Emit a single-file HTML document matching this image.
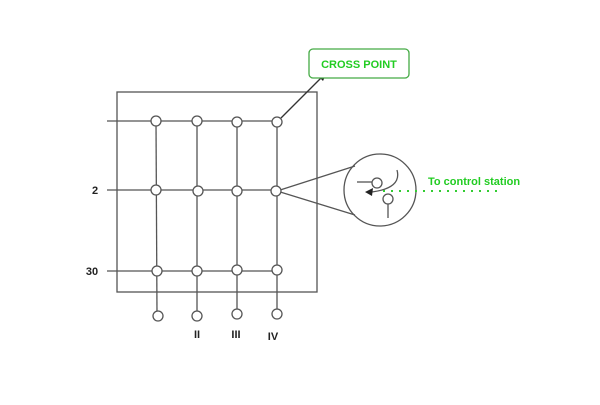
<!DOCTYPE html>
<html><head><style>body{margin:0;background:#fff}</style></head><body>
<svg width="600" height="400" xmlns="http://www.w3.org/2000/svg" font-family="Liberation Sans, sans-serif">
<rect width="600" height="400" fill="#fff"/>
<g stroke="#555" stroke-width="1.3" fill="none">
<rect x="117" y="92" width="200" height="200"/>
<line x1="107" y1="121" x2="277" y2="121"/>
<line x1="107" y1="190" x2="277" y2="190"/>
<line x1="107" y1="271" x2="277" y2="271"/>
<line x1="156" y1="121" x2="157" y2="315"/>
<line x1="197" y1="121" x2="197" y2="315"/>
<line x1="237" y1="121" x2="237" y2="313"/>
<line x1="277" y1="121" x2="277" y2="313"/>
<line x1="277" y1="191" x2="355" y2="166"/>
<line x1="277" y1="191" x2="355" y2="215"/>
<circle cx="380" cy="190" r="36"/>
<line x1="357" y1="182" x2="372" y2="182"/>
<line x1="388" y1="204" x2="388" y2="218"/>
<path d="M397 170 Q402 188 372 192"/>
</g>
<path d="M365 192 L373 188 L372 196 Z" fill="#222"/>
<g stroke="#555" stroke-width="1.3" fill="#fff">
<circle cx="156" cy="121" r="5"/><circle cx="197" cy="121" r="5"/><circle cx="237" cy="122" r="5"/><circle cx="277" cy="122" r="5"/>
<circle cx="156" cy="190" r="5"/><circle cx="198" cy="191" r="5"/><circle cx="237" cy="191" r="5"/><circle cx="276" cy="191" r="5"/>
<circle cx="157" cy="271" r="5"/><circle cx="197" cy="271" r="5"/><circle cx="237" cy="270" r="5"/><circle cx="277" cy="270" r="5"/>
<circle cx="158" cy="316" r="5"/><circle cx="197" cy="316" r="5"/><circle cx="237" cy="314" r="5"/><circle cx="277" cy="314" r="5"/>
<circle cx="377" cy="183" r="5"/><circle cx="388" cy="199" r="5"/>
</g>
<line x1="383" y1="191" x2="502" y2="191" stroke="#3c3" stroke-width="2" stroke-dasharray="2,6"/>
<line x1="281" y1="118" x2="322" y2="77" stroke="#333" stroke-width="1.3"/>
<path d="M327 72 L318 76 L323 81 Z" fill="#222"/>
<rect x="309" y="49" width="100" height="29" rx="4" fill="#fff" stroke="#4a4" stroke-width="1.3"/>
<text x="359" y="68" text-anchor="middle" font-size="11" font-weight="bold" fill="#2c2">CROSS POINT</text>
<text x="428" y="185" font-size="11" font-weight="bold" fill="#2c2">To control station</text>
<g font-size="11" font-weight="bold" fill="#222" text-anchor="middle">
<text x="95" y="194">2</text><text x="92" y="275">30</text>
<text x="197" y="338">II</text><text x="236" y="338">III</text><text x="273" y="340">IV</text>
</g>
</svg>
</body></html>
